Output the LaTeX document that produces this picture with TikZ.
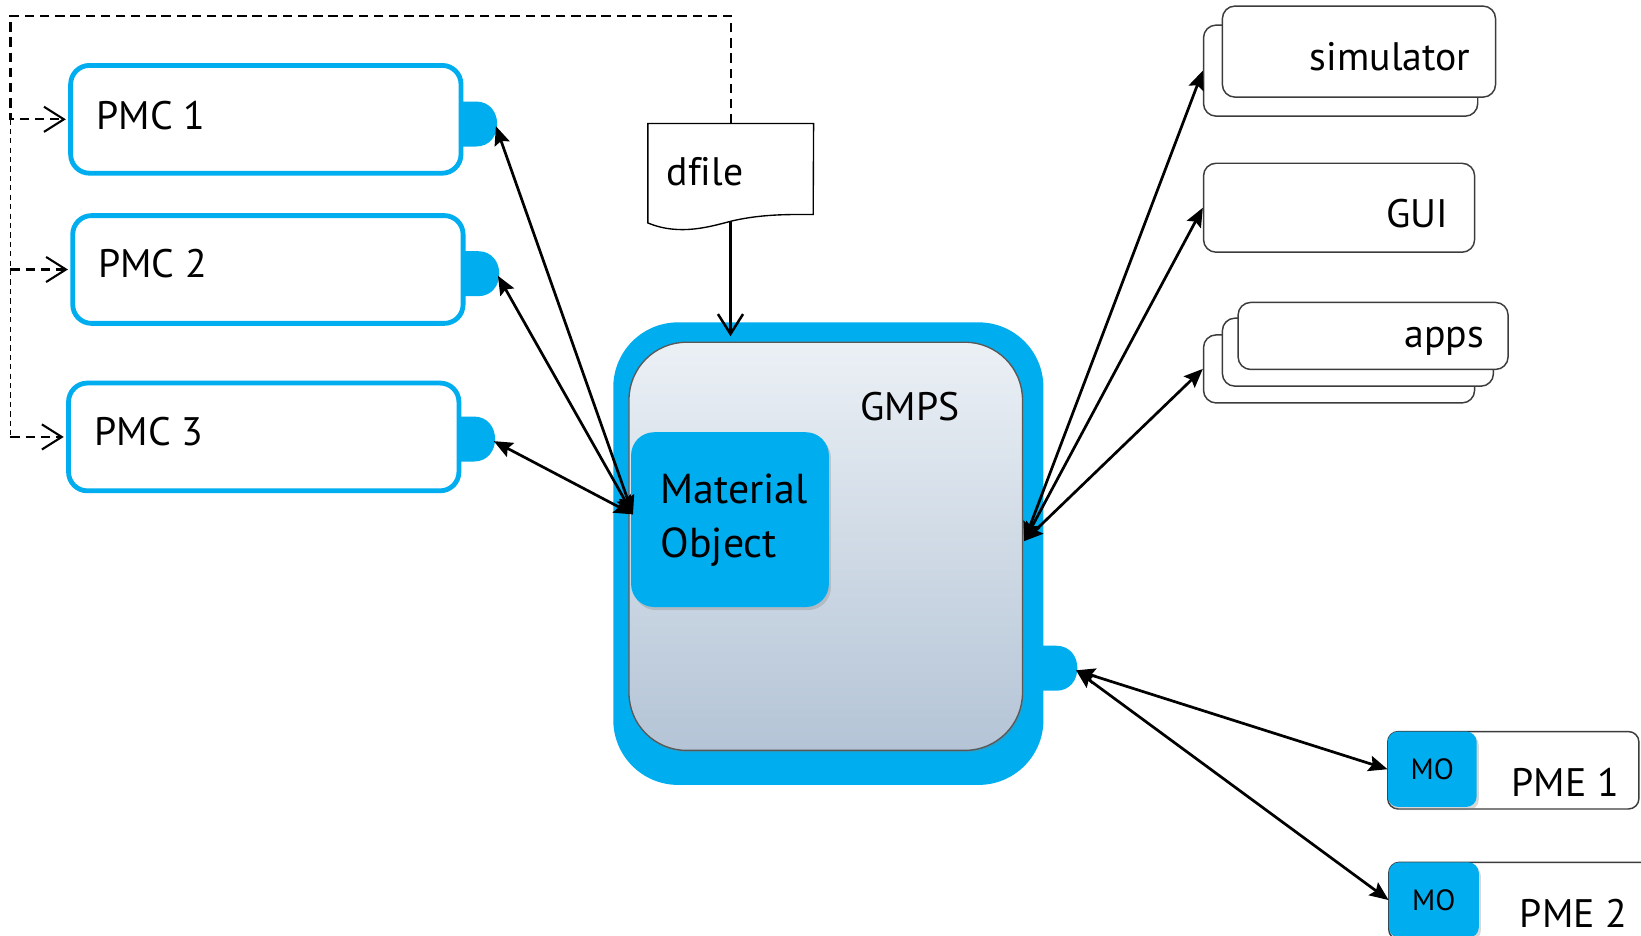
\documentclass[tikz,border=0pt]{standalone}
\usepackage{fontspec}
\setmainfont{PT Sans}
\usetikzlibrary{arrows.meta,shadows,calc}
\definecolor{fjblue}{RGB}{0,174,239}
\definecolor{edgegray}{RGB}{60,60,60}
\definecolor{coretop}{RGB}{235,240,245}
\definecolor{corebot}{RGB}{180,196,214}
\tikzset{
  porttab/.pic={
    \fill[fjblue] (-2,-21.5) -- (12,-21.5) .. controls (39,-21.5) and (39,21.5) .. (12,21.5) -- (-2,21.5) -- cycle;
    \coordinate (-tip) at (31,2);
  },
}
\begin{document}
\begin{tikzpicture}[x=1pt,y=-1pt,
  pmcbox/.style={draw=fjblue,line width=4.6pt,rounded corners=18pt,fill=white,
    minimum width=373pt,minimum height=103pt,inner sep=0pt},
  appbox/.style={draw=edgegray,line width=1.4pt,rounded corners=12pt,fill=white,inner sep=0pt},
  mobox/.style={fill=fjblue,rounded corners=10pt,inner sep=0pt,
    drop shadow={shadow xshift=2pt,shadow yshift=-3pt,opacity=.3}},
  txt/.style={font=\fontsize{38}{44}\selectfont,inner sep=0pt},
  motxt/.style={font=\fontsize{28}{32}\selectfont,inner sep=0pt},
  conn/.style={line width=2.6pt,
    {Stealth[length=18pt,width=15pt,inset=3pt]}-{Stealth[length=18pt,width=15pt,inset=3pt]}},
  openhead/.style={-{Straight Barb[length=19pt,width=24pt]}},
  dashthick/.style={line width=2pt,dash pattern=on 9pt off 5.5pt},
  dashthin/.style={line width=1.3pt,dash pattern=on 5pt off 4pt},
]
\clip (0,0) rectangle (1568,894);
\fill[white] (0,0) rectangle (1568,894);

% ---------- PMC boxes with their ports ----------
\node[pmcbox] (pmc1) at (254,114) {};
\node[pmcbox] (pmc2) at (256,257.5) {};
\node[pmcbox] (pmc3) at (252,417.5) {};
\node[txt,anchor=base west] (pmc1txt) at (92,123.5) {PMC 1};
\node[txt,anchor=base west] (pmc2txt) at (93.5,265.5) {PMC 2};
\node[txt,anchor=base west] (pmc3txt) at (90,426) {PMC 3};
\pic (tab1) at ([yshift=-4.5pt]pmc1.east) {porttab};
\pic (tab2) at ([yshift=-4pt]pmc2.east) {porttab};
\pic (tab3) at ([yshift=-2pt]pmc3.east) {porttab};

% ---------- dfile document ----------
\node[minimum width=158pt,minimum height=95pt,anchor=north west,inner sep=0pt] (dfile) at (619,118) {};
\draw[line width=1.3pt,fill=white] (dfile.north west) -- (dfile.north east) -- (777,205)
  .. controls (760,205) and (730,204) .. (700,211)
  .. controls (680,216) and (650,226) .. (619,213) -- cycle;
\node[txt,anchor=base west] (dfiletxt) at (637,177) {df\kern0pt ile};
\coordinate (dfilebot) at (698,211);

% ---------- GMPS ----------
\node[fill=fjblue,rounded corners=62pt,minimum width=411pt,minimum height=442pt,inner sep=0pt] (gmps) at (791.5,529) {};
\node[draw=edgegray!85,line width=1.3pt,rounded corners=55pt,top color=coretop,bottom color=corebot,
  minimum width=376pt,minimum height=390pt,inner sep=0pt,
  drop shadow={shadow xshift=1.5pt,shadow yshift=-2pt,opacity=.25}] (core) at (789,522) {};
\pic (gtab) at ($(gmps.east)+(0,109.5)$) {porttab};
\node[txt,anchor=base west] (gmpstxt) at (822,402) {GMPS};
\node[fill=fjblue,rounded corners=22pt,minimum width=189pt,minimum height=167pt,inner sep=0pt,
  drop shadow={shadow xshift=2pt,shadow yshift=-3pt,opacity=.3}] (mo) at (697.5,496.5) {};
\node[txt,font=\fontsize{40}{46}\selectfont,anchor=base west] (motxt1) at (631,481) {Material};
\node[txt,font=\fontsize{40}{46}\selectfont,anchor=base west] (motxt2) at (631,533) {Object};
\coordinate (moin) at ($(mo.west)+(2,-5)$);
\coordinate (coreout) at ($(core.east)+(1,-5)$);

% ---------- clients on the right ----------
\node[appbox,minimum width=262pt,minimum height=87pt] (simback) at (1281,67.5) {};
\node[appbox,minimum width=261pt,minimum height=87pt] (sim) at (1298.5,49.3) {};
\node[txt,anchor=base east] (simtxt) at (1405,67) {simulator};

\node[appbox,minimum width=259pt,minimum height=85pt] (gui) at (1279.5,198.5) {};
\node[txt,anchor=base east] (guitxt) at (1384,217) {GUI};

\node[appbox,minimum width=259pt,minimum height=65pt] (appsback) at (1279.5,352.5) {};
\node[appbox,minimum width=259pt,minimum height=65pt] (appsmid) at (1297.5,336.5) {};
\node[appbox,minimum width=258pt,minimum height=64pt] (apps) at (1312,321) {};
\node[txt,anchor=base east] (appstxt) at (1418,332.5) {apps};

% ---------- PME units ----------
\node[appbox,rounded corners=10pt,minimum width=240pt,minimum height=74pt] (pme1) at (1446,736) {};
\node[mobox,minimum width=85pt,minimum height=72pt] (mo1) at (1368.5,735) {};
\node[motxt] (mo1txt) at (mo1) {MO};
\node[txt,anchor=base west] (pme1txt) at (1444,761) {PME 1};

\node[appbox,rounded corners=10pt,minimum width=263pt,minimum height=74pt] (pme2) at (1458.5,861) {};
\node[mobox,minimum width=86pt,minimum height=72pt] (mo2) at (1370,860) {};
\node[motxt] (mo2txt) at (mo2) {MO};
\node[txt,anchor=base west] (pme2txt) at (1452,886) {PME 2};

% ---------- connectors ----------
\coordinate (bus) at (10,15);
\draw[dashthick,openhead,shorten >=2.3pt] (dfile.north) |- (bus) |- (pmc1.west);
\draw[dashthin] (bus |- pmc1.west) -- (bus |- pmc3.west);
\draw[dashthick,openhead,shorten >=2.3pt] (bus |- pmc2.west) -- (pmc2.west);
\draw[dashthick,openhead,shorten >=2.3pt] (bus |- pmc3.west) -- (pmc3.west);
\draw[line width=2.4pt,openhead,shorten >=5pt] (dfilebot) -- (dfilebot |- core.north);

\draw[conn] (tab1-tip) -- (moin);
\draw[conn] (tab2-tip) -- (moin);
\draw[conn] (tab3-tip) -- (moin);

\draw[conn] (coreout) -- (simback.west);
\draw[conn] (coreout) -- (gui.west);
\draw[conn] (coreout) -- (appsback.west);

\draw[conn] (gtab-tip) -- (mo1.west);
\draw[conn] (gtab-tip) -- (mo2.west);
\end{tikzpicture}
\end{document}
